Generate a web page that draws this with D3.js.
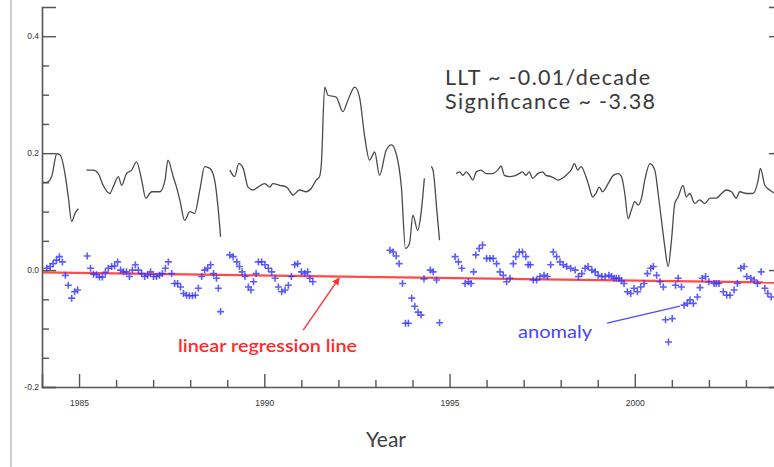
<!DOCTYPE html>
<html>
<head>
<meta charset="utf-8">
<script src="https://cdn.jsdelivr.net/npm/d3@7"></script>
<style>
  html, body { margin: 0; padding: 0; background: #fff; }
  svg { display: block; }
</style>
</head>
<body>
<svg id="chart" width="774" height="467"></svg>
<script>
// ---------------- data ----------------
const xDomain = [1984, 2004];
const yDomain = [-0.2, 0.45];

const xMajorTicks = [1985, 1990, 1995, 2000];
const xMajorLabels = ["1985", "1990", "1995", "2000"];
const xMinorTicks = [1985, 1986, 1987, 1988, 1989, 1990, 1991, 1992, 1993, 1994, 1995, 1996, 1997, 1998, 1999, 2000, 2001, 2002, 2003];
const yMajorTicks = [-0.2, 0.0, 0.2, 0.4];
const yMajorLabels = ["-0.2", "0.0", "0.2", "0.4"];
const yMinorTicks = [-0.15, -0.1, -0.05, 0.05, 0.1, 0.15, 0.25, 0.3, 0.35];

// black curve (null = gap)
const lineYears = [
  1984.00,1984.13,1984.26,1984.40,1984.49,1984.62,1984.71,1984.80,1984.89,1984.98,
  1985.10,
  1985.20,1985.38,1985.52,1985.65,1985.83,1985.92,1986.06,1986.15,1986.28,1986.42,1986.55,1986.69,1986.80,1986.96,
  1987.18,1987.32,1987.40,1987.54,1987.63,1987.72,1987.85,1987.99,1988.12,1988.26,1988.39,1988.53,1988.66,1988.75,1988.82,
  1988.95,
  1989.07,1989.20,1989.31,1989.43,1989.56,1989.70,1989.83,1990.01,1990.15,1990.23,1990.42,1990.60,1990.73,1990.77,1990.95,
  1991.13,1991.27,1991.40,1991.49,1991.54,1991.63,1991.72,1991.94,1992.12,1992.26,1992.44,1992.57,1992.71,1992.84,1992.98,
  1993.11,1993.29,1993.43,1993.56,1993.70,1993.81,1993.92,1994.01,1994.14,1994.23,1994.32,
  1994.41,
  1994.50,1994.55,1994.66,1994.73,
  1994.95,
  1995.18,1995.27,1995.36,1995.45,1995.54,1995.63,1995.72,1995.85,1995.99,1996.16,1996.30,1996.39,1996.48,1996.61,1996.75,
  1996.88,1996.97,1997.06,1997.15,1997.24,1997.38,1997.51,1997.60,1997.74,1997.83,1997.92,1998.05,1998.19,1998.28,1998.37,
  1998.46,1998.55,1998.68,1998.77,1998.86,1998.95,1999.04,1999.13,1999.28,1999.42,1999.55,1999.64,1999.73,1999.82,1999.91,
  2000.00,2000.09,2000.18,2000.27,2000.41,2000.54,2000.63,2000.72,2000.81,2000.90,2000.99,2001.08,2001.17,2001.30,2001.39,
  2001.48,2001.62,2001.75,2001.89,2002.03,2002.20,2002.34,2002.47,2002.61,2002.74,2002.83,2003.01,2003.19,2003.33,2003.39,
  2003.51,2003.64,2003.76,2003.90
];
const lineValues = [
  0.150,0.150,0.160,0.199,0.197,0.165,0.125,0.083,0.097,0.105,
  null,
  0.171,0.171,0.165,0.145,0.131,0.142,0.160,0.145,0.165,0.171,0.185,0.154,0.123,0.134,
  0.134,0.154,0.188,0.160,0.142,0.120,0.085,0.100,0.097,0.137,0.177,0.174,0.154,0.108,0.057,
  null,
  0.171,0.160,0.182,0.174,0.142,0.137,0.142,0.148,0.142,0.148,0.145,0.142,0.131,0.128,0.137,
  0.134,0.140,0.154,0.160,0.182,0.313,0.299,0.296,0.271,0.291,0.313,0.296,0.228,0.188,0.202,
  0.162,0.205,0.214,0.199,0.142,0.037,0.046,0.094,0.068,0.097,0.157,
  null,
  0.177,0.172,0.100,0.051,
  null,
  0.165,0.168,0.162,0.168,0.162,0.154,0.168,0.171,0.165,0.165,0.171,0.178,0.162,0.160,0.161,
  0.165,0.168,0.162,0.168,0.157,0.165,0.168,0.162,0.160,0.157,0.154,0.157,0.165,0.171,0.182,
  0.171,0.177,0.160,0.142,0.125,0.131,0.142,0.134,0.148,0.162,0.165,0.160,0.131,0.088,0.103,
  0.117,0.111,0.123,0.154,0.182,0.171,0.131,0.085,0.040,0.006,0.051,0.114,0.125,0.145,0.125,
  0.131,0.114,0.120,0.114,0.123,0.123,0.131,0.137,0.134,0.123,0.134,0.131,0.131,0.154,0.174,
  0.145,0.137,0.132,0.130
];

// blue "+" anomaly markers
const anomalyYears = [
  1984.13,1984.22,1984.30,1984.39,1984.47,1984.55,1984.63,1984.71,1984.80,1984.88,1984.96,
  1985.22,1985.31,1985.39,1985.47,1985.55,1985.63,1985.71,1985.79,1985.88,1985.96,1986.04,1986.12,1986.20,1986.28,1986.36,
  1986.44,1986.52,1986.60,1986.69,1986.77,1986.85,1986.93,1987.01,1987.09,1987.17,1987.25,1987.33,1987.41,1987.50,1987.58,
  1987.66,1987.74,1987.82,1987.90,1987.98,1988.06,1988.14,1988.22,1988.31,1988.39,1988.47,1988.55,1988.63,1988.71,1988.76,1988.82,
  1989.07,1989.16,1989.26,1989.33,1989.40,1989.48,1989.57,1989.64,1989.71,1989.78,1989.84,1989.93,1990.02,1990.11,1990.20,
  1990.29,1990.38,1990.47,1990.56,1990.65,1990.73,1990.82,1990.90,1991.00,1991.09,1991.17,1991.23,1991.31,
  1993.39,1993.48,1993.56,1993.64,1993.73,1993.81,1993.89,1993.98,1994.06,1994.15,1994.23,1994.31,1994.48,1994.56,1994.65,1994.73,
  1995.15,1995.24,1995.33,1995.42,1995.51,1995.58,1995.65,1995.71,1995.80,1995.89,1996.00,1996.09,1996.18,1996.27,1996.36,
  1996.45,1996.54,1996.63,1996.72,1996.79,1996.88,1996.97,1997.06,1997.12,1997.18,1997.26,1997.35,1997.44,1997.55,1997.64,
  1997.73,1997.80,1997.89,1997.98,1998.07,1998.16,1998.27,1998.39,1998.48,1998.57,1998.66,1998.74,1998.84,1998.93,1999.01,
  1999.11,1999.20,1999.30,1999.37,1999.44,1999.50,1999.57,1999.64,1999.71,1999.80,1999.89,1999.98,2000.07,2000.16,2000.25,
  2000.34,2000.43,2000.50,2000.59,2000.68,2000.77,2000.83,2000.91,2001.01,2001.10,2001.17,2001.26,2001.33,2001.42,2001.49,
  2001.58,2001.69,2001.76,2001.82,2001.91,2002.00,2002.14,2002.20,2002.27,2002.39,2002.48,2002.57,2002.68,2002.77,2002.86,
  2002.95,2003.02,2003.13,2003.22,2003.31,2003.41,2003.51,2003.59,2003.68
];
const anomalyValues = [
  0.003,0.006,0.011,0.017,0.023,0.014,-0.009,-0.026,-0.048,-0.037,-0.034,
  0.024,0.003,-0.007,-0.008,-0.012,-0.012,-0.004,0.003,0.006,0.007,0.014,0.000,-0.003,-0.003,-0.011,
  0.000,0.009,0.000,-0.006,-0.011,-0.009,-0.003,-0.011,-0.011,-0.009,-0.006,0.003,0.014,-0.006,-0.023,
  -0.023,-0.029,-0.040,-0.043,-0.044,-0.044,-0.043,-0.031,-0.011,0.000,0.003,0.009,-0.006,-0.014,-0.031,-0.071,
  0.026,0.023,0.014,0.006,-0.003,-0.011,-0.029,-0.034,-0.020,-0.006,0.014,0.014,0.009,0.003,-0.003,
  -0.014,-0.029,-0.037,-0.034,-0.026,-0.011,0.009,0.011,-0.003,-0.006,-0.003,-0.014,-0.020,
  0.034,0.031,0.024,0.011,-0.023,-0.091,-0.091,-0.048,-0.062,-0.072,-0.077,-0.015,0.000,-0.003,-0.017,-0.090,
  0.023,0.014,0.003,-0.023,-0.020,-0.023,-0.003,0.026,0.037,0.043,0.020,0.020,0.020,0.011,-0.003,
  -0.009,-0.020,-0.014,0.011,0.023,0.031,0.031,0.023,0.009,0.009,-0.017,-0.017,-0.011,-0.009,-0.011,
  0.009,0.031,0.023,0.014,0.009,0.006,0.003,0.000,-0.011,-0.006,0.003,0.006,0.000,-0.003,-0.009,
  -0.011,-0.011,-0.009,-0.011,-0.014,-0.014,-0.014,-0.018,-0.023,-0.037,-0.040,-0.031,-0.037,-0.029,-0.023,
  -0.006,0.003,0.006,-0.009,-0.020,-0.029,-0.085,-0.123,-0.083,-0.026,-0.014,-0.029,-0.060,-0.057,-0.051,
  -0.057,-0.046,-0.030,-0.014,-0.011,-0.020,-0.023,-0.023,-0.023,-0.037,-0.043,-0.043,-0.034,-0.023,0.003,
  0.006,-0.011,-0.014,-0.017,-0.023,-0.003,-0.031,-0.040,-0.046
];

// linear regression line
const trendYears = [1984, 2004];
const trendValues = [-0.004, -0.0215];

// annotations (in data units)
const statLines = ["LLT ~ -0.01/decade", "Significance ~ -3.38"];
const regressionLabel = "linear regression line";
const anomalyLabel = "anomaly";
const regArrowFrom = [1991.05, -0.1026];
const regArrowTo = [1992.02, -0.0137];
const anomPointerFrom = [1999.25, -0.0906];
const anomPointerTo = [2001.22, -0.0615];

// ---------------- drawing ----------------
const svg = d3.select("#chart");
const x = d3.scaleLinear().domain(xDomain).range([42, 783]);
const y = d3.scaleLinear().domain(yDomain).range([387, 7]);

const axisColor = "#555";
const lbl = "'Liberation Sans', Arial, sans-serif";
const cal = "Lato, 'Open Sans', sans-serif";

// page-edge gray line at left
svg.append("line").attr("x1", 11).attr("x2", 11).attr("y1", 0).attr("y2", 467)
  .attr("stroke", "#cfcfcf").attr("stroke-width", 2);

// black curve
const pts = lineYears.map((t, i) => ({ t, v: lineValues[i] }));
svg.append("path")
  .datum(pts)
  .attr("fill", "none")
  .attr("stroke", "#4a4a4a")
  .attr("stroke-width", 1.3)
  .attr("stroke-linejoin", "round")
  .attr("d", d3.line().defined(d => d.v !== null).curve(d3.curveMonotoneX).x(d => x(d.t)).y(d => y(d.v)));

// regression line
svg.append("path")
  .datum(trendYears.map((t, i) => ({ t, v: trendValues[i] })))
  .attr("fill", "none")
  .attr("stroke", "#ff4a4a")
  .attr("stroke-width", 2.4)
  .attr("d", d3.line().x(d => x(d.t)).y(d => y(d.v)));

// anomaly markers ("+")
const an = anomalyYears.map((t, i) => ({ t, v: anomalyValues[i] }));
svg.append("g").selectAll("path").data(an).join("path")
  .attr("transform", d => `translate(${x(d.t)},${y(d.v)})`)
  .attr("d", "M-3.5,0H3.5M0,-3.5V3.5")
  .attr("fill", "none")
  .attr("stroke", "#3434ff")
  .attr("stroke-width", 1.6)
  .attr("stroke-opacity", 0.8);

// axes
function styleAxis(g) {
  g.select(".domain").attr("stroke", axisColor).attr("stroke-width", 1.6);
  g.selectAll(".tick line").attr("stroke", axisColor).attr("stroke-width", 1.4);
  g.selectAll(".tick text").attr("fill", "#333").attr("font-family", lbl).attr("font-size", 8.5);
}
const yL = svg.append("g").attr("transform", "translate(42,0)")
  .call(d3.axisLeft(y).tickValues(yMajorTicks).tickSize(-14).tickPadding(3)
    .tickFormat((d, i) => yMajorLabels[i]));
styleAxis(yL);
const yLm = svg.append("g").attr("transform", "translate(42,0)")
  .call(d3.axisLeft(y).tickValues(yMinorTicks).tickSize(-7).tickFormat(""));
styleAxis(yLm);
yLm.select(".domain").remove();

const yR = svg.append("g").attr("transform", "translate(783,0)")
  .call(d3.axisRight(y).tickValues(yMajorTicks).tickSize(-14).tickFormat(""));
styleAxis(yR);

const xB = svg.append("g").attr("transform", "translate(0,387)")
  .call(d3.axisBottom(x).tickValues(xMajorTicks).tickSize(-13).tickPadding(13)
    .tickFormat((d, i) => xMajorLabels[i]));
styleAxis(xB);
const xBm = svg.append("g").attr("transform", "translate(0,387)")
  .call(d3.axisBottom(x).tickValues(xMinorTicks.filter(v => !xMajorTicks.includes(v))).tickSize(-7).tickFormat(""));
styleAxis(xBm);
xBm.select(".domain").remove();

// axis title
svg.append("text").attr("x", 386).attr("y", 447).attr("text-anchor", "middle")
  .attr("font-family", cal).attr("font-size", 21).attr("fill", "#404040").text("Year");

// stats text
const statWidths = [205, 210];
statLines.forEach((s, i) => {
  svg.append("text").attr("x", 445).attr("y", 85 + i * 23.5)
    .attr("font-family", cal).attr("font-size", 21.5).attr("fill", "#3a3a3a")
    .attr("textLength", statWidths[i]).attr("lengthAdjust", "spacing")
    .text(s);
});

// regression annotation
svg.append("defs").append("marker")
  .attr("id", "ah").attr("viewBox", "0 0 10 10").attr("refX", 9).attr("refY", 5)
  .attr("markerWidth", 5).attr("markerHeight", 5).attr("orient", "auto")
  .append("path").attr("d", "M0,0 L10,5 L0,10 z").attr("fill", "#ff3030");
svg.append("line")
  .attr("x1", x(regArrowFrom[0])).attr("y1", y(regArrowFrom[1]))
  .attr("x2", x(regArrowTo[0])).attr("y2", y(regArrowTo[1]))
  .attr("stroke", "#ff3a3a").attr("stroke-width", 1.5).attr("marker-end", "url(#ah)");
svg.append("text").attr("x", 178).attr("y", 352)
  .attr("font-family", cal).attr("font-size", 18).attr("font-weight", 600)
  .attr("fill", "#ff2a2a").attr("textLength", 179).attr("lengthAdjust", "spacingAndGlyphs")
  .text(regressionLabel);

// anomaly annotation
svg.append("line")
  .attr("x1", x(anomPointerFrom[0])).attr("y1", y(anomPointerFrom[1]))
  .attr("x2", x(anomPointerTo[0])).attr("y2", y(anomPointerTo[1]))
  .attr("stroke", "#4a4aff").attr("stroke-width", 1.3);
svg.append("text").attr("x", 518).attr("y", 338)
  .attr("font-family", cal).attr("font-size", 17)
  .attr("fill", "#4545ff").attr("textLength", 74).attr("lengthAdjust", "spacingAndGlyphs")
  .text(anomalyLabel);
</script>
</body>
</html>
